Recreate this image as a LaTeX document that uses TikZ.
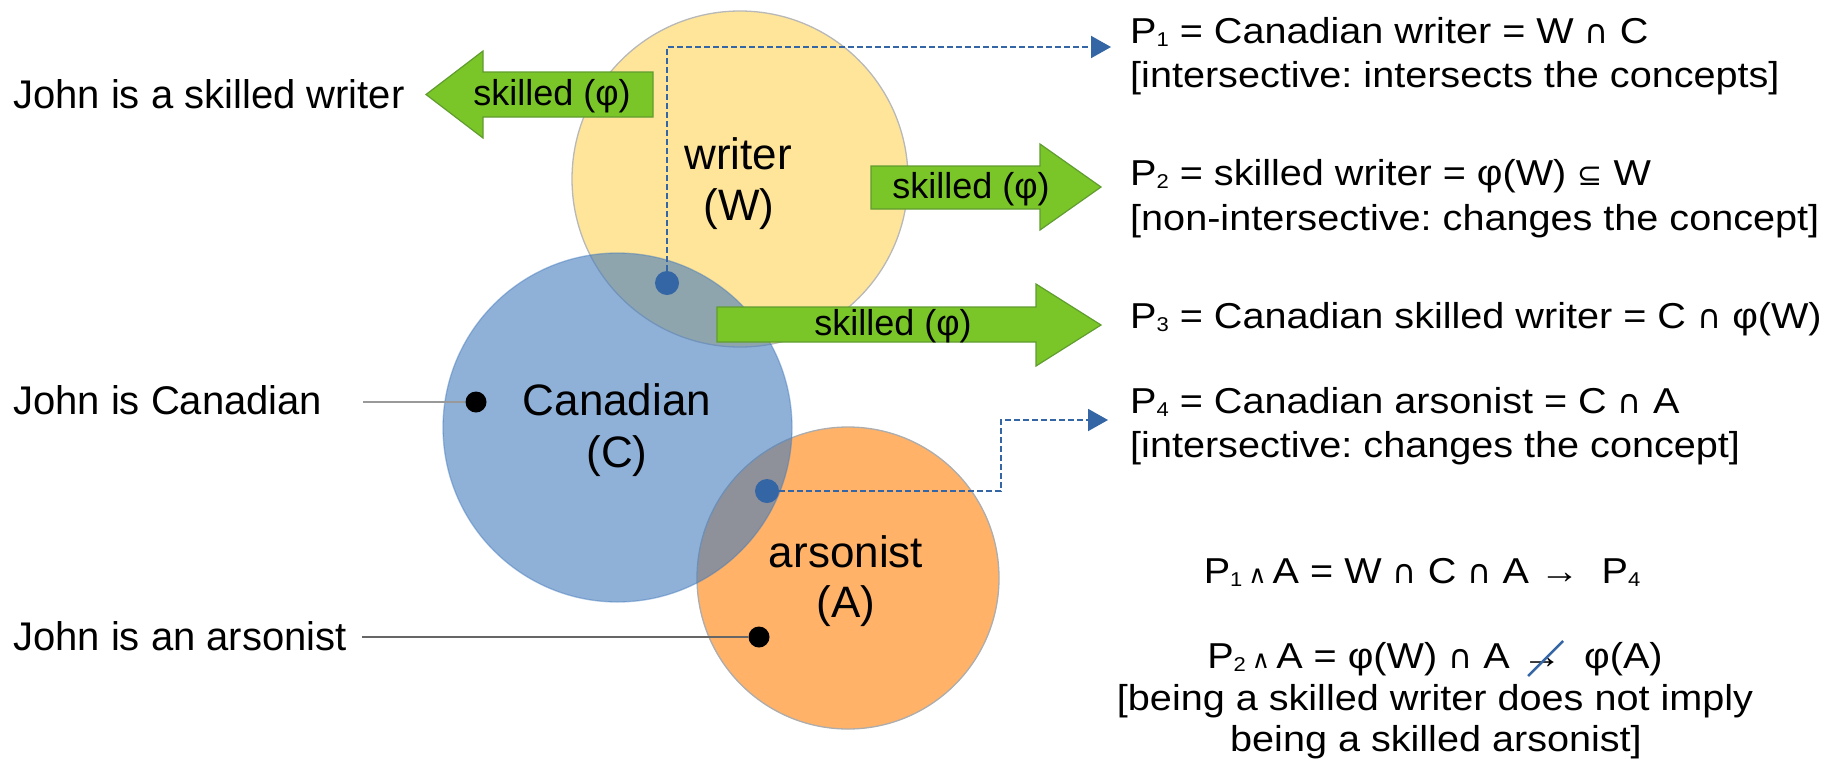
\documentclass[tikz,border=0pt]{standalone}
\usepackage{fontspec}
\usepackage{graphicx}
\setmainfont{Liberation Sans}
\newfontfamily\rtfont[FakeStretch=1.1]{Liberation Sans}
\newfontfamily\symfont{DejaVu Sans}
\usetikzlibrary{arrows.meta,calc}
\frenchspacing

\definecolor{wfill}{RGB}{255,229,153}
\definecolor{cfill}{RGB}{68,123,188}
\definecolor{afill}{RGB}{255,178,104}
\definecolor{gfill}{RGB}{122,198,40}
\definecolor{gline}{RGB}{96,156,48}
\definecolor{dblue}{RGB}{52,101,164}

\newcommand\setfs[1]{\fontsize{#1}{#1}\selectfont}
\newcommand\lowsub[1]{\raisebox{-3pt}{\setfs{20}#1}}
\newcommand\capop{{\symfont\setfs{33}∩}}
\newcommand\subsetop{{\symfont\setfs{30}⊆}}
\newcommand\andop{{\symfont\setfs{25}∧}}

\tikzset{
  setc/.style={circle, inner sep=0pt, outer sep=0pt, line width=1.3pt},
  lefttxt/.style={anchor=base west, inner sep=0pt, font=\setfs{40}},
  ctxt/.style={anchor=base, inner sep=0pt, font=\setfs{44}},
  rtxt/.style={anchor=base west, inner sep=0pt, font=\rtfont\setfs{36}},
  ftxt/.style={anchor=base, inner sep=0pt, font=\rtfont\setfs{36}},
  gtxt/.style={anchor=base, inner sep=0pt, font=\setfs{36}},
  garrow/.style={fill=gfill, draw=gline, line width=1.2pt, line join=miter},
  bdot/.style={circle, fill=dblue, inner sep=0pt, minimum size=24pt},
  kdot/.style={circle, fill=black, inner sep=0pt, minimum size=21pt},
  dashconn/.style={draw=dblue, line width=2pt, dash pattern=on 6pt off 3pt,
    -{Triangle[length=20pt,width=22pt]}},
  pointer/.style={line width=1.5pt},
  slash/.style={draw=dblue, line width=2.5pt}
}

\begin{document}
\begin{tikzpicture}[x=1pt,y=-1pt]
\useasboundingbox (0,0) rectangle (1833,769);

% concept sets
\node[setc, minimum size=336pt, fill=wfill, draw=black!28] (W) at (740,179) {};
\node[setc, minimum size=302pt, fill=afill, draw=black!32] (A) at (848,578) {};
\node[setc, minimum size=349pt, fill=cfill, fill opacity=0.6,
      draw=cfill, draw opacity=0.45] (C) at (617.5,427.5) {};

\node[ctxt] (Wl1) at (738,169) {writer};
\node[ctxt] (Wl2) at (739,220) {(W)};
\node[ctxt] (Cl1) at (617,415) {Canadian};
\node[ctxt] (Cl2) at (617,467) {(C)};
\node[ctxt] (Al1) at (846,567) {arsonist};
\node[ctxt] (Al2) at (846,617) {(A)};

% sentences on the left
\node[lefttxt] (L1) at (13,108) {John is a skilled writer};
\node[lefttxt] (L2) at (13,414) {John is Canadian};
\node[lefttxt] (L3) at (13,650) {John is an arsonist};

% modifier arrows
\draw[garrow] (653,72) -- (483,72) -- (483,51) -- (426,94.5) -- (483,138)
  -- (483,117) -- (653,117) -- cycle;
\node[gtxt] (g1) at (552,105) {skilled (φ)};
\draw[garrow] (871,166) -- (1040,166) -- (1040,144) -- (1101,187) -- (1040,230)
  -- (1040,209) -- (871,209) -- cycle;
\node[gtxt] (g2) at (971,198) {skilled (φ)};
\draw[garrow] (717,307) -- (1036,307) -- (1036,284) -- (1101,325) -- (1036,366)
  -- (1036,342) -- (717,342) -- cycle;
\node[gtxt] (g3) at (893,335) {skilled (φ)};

% propositions
\node[rtxt] (P1) at (1130,43) {P\lowsub{1} = Canadian writer = W \capop{} C};
\node[rtxt] (P1n) at (1130,87) {[intersective: intersects the concepts]};
\node[rtxt] (P2) at (1130,185) {P\lowsub{2} = skilled writer = φ(W) \subsetop{} W};
\node[rtxt] (P2n) at (1130,230) {[non-intersective: changes the concept]};
\node[rtxt] (P3) at (1130,328) {P\lowsub{3} = Canadian skilled writer = C \capop{} φ(W)};
\node[rtxt] (P4) at (1130,413) {P\lowsub{4} = Canadian arsonist = C \capop{} A};
\node[rtxt] (P4n) at (1130,457) {[intersective: changes the concept]};

\node[ftxt] (Q1) at (1422,583) {P\lowsub{1}\,\andop\,A = W \capop{} C \capop{} A → \ P\lowsub{4}};
\node[ftxt] (narr) at (1542,668) {→};
\node[ftxt, anchor=base east] (Q2a) at ($(narr.base west)+(-12,0)$)
  {P\lowsub{2}\,\andop\,A = φ(W) \capop{} A};
\node[ftxt, anchor=base west] (Q2b) at ($(narr.base east)+(22,0)$) {φ(A)};
\draw[slash] ($(narr.base)+(-14,8)$) -- ($(narr.base)+(21,-27)$);
\node[ftxt] (Q3) at (1435,710) {[being a skilled writer does not imply};
\node[ftxt] (Q4) at (1436,751) {being a skilled arsonist]};

% connectors
\coordinate (P1in) at (1111,47);
\coordinate (P4in) at (1108,420);
\coordinate (knee) at (1001,491);
\coordinate (L2end) at (363,402);
\coordinate (L3end) at (362,637);

\node[bdot] (WC) at (667,283) {};
\node[bdot] (CA) at (767,491) {};
\node[kdot] (jc) at (476,402) {};
\node[kdot] (ja) at (759,637) {};

\draw[dashconn] (WC) |- (P1in);
\draw[dashconn] (CA) -- (knee) |- (P4in);
\draw[pointer, draw=black!40] (L2end) -- (jc);
\draw[pointer, draw=black!60, line width=1.2pt] (L3end) -- (ja);
\end{tikzpicture}
\end{document}
